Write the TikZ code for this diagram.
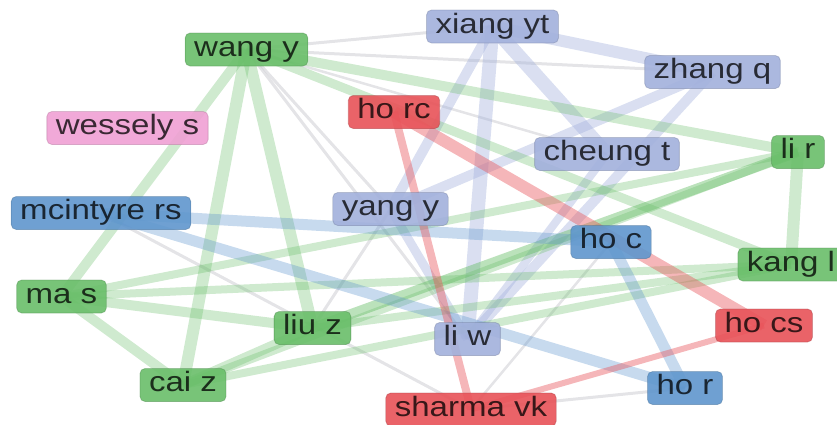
\documentclass[tikz,border=0pt]{standalone}
\usepackage{fontspec}
\setmainfont[FakeStretch=1.18]{Liberation Sans}
\usetikzlibrary{backgrounds}
\definecolor{cg}{RGB}{105,190,105}
\definecolor{cr}{RGB}{232,82,88}
\definecolor{cb}{RGB}{95,150,205}
\definecolor{cl}{RGB}{162,176,220}
\definecolor{cp}{RGB}{240,160,212}
\definecolor{cgray}{RGB}{210,210,215}
\tikzset{
  nd/.style={rounded corners=5pt, inner xsep=9pt, inner ysep=0pt,
    text height=19pt, text depth=6pt, minimum height=33pt,
    font=\fontsize{28}{30}\selectfont, text=black, text opacity=0.76,
    fill opacity=0.9, draw opacity=0.45, line width=0.8pt},
  ng/.style={nd, fill=cg, draw=cg!75!black},
  nr/.style={nd, fill=cr, draw=cr!75!black},
  nb/.style={nd, fill=cb, draw=cb!75!black},
  nl/.style={nd, fill=cl, draw=cl!75!black},
  np/.style={nd, fill=cp, draw=cp!75!black},
  eg/.style={draw=cg, draw opacity=0.32, line width=#1pt}, eg/.default=10,
  er/.style={draw=cr, draw opacity=0.42, line width=#1pt}, er/.default=10,
  eb/.style={draw=cb, draw opacity=0.35, line width=#1pt}, eb/.default=10,
  el/.style={draw=cl, draw opacity=0.4, line width=#1pt}, el/.default=10,
  ey/.style={draw=cgray, draw opacity=0.6, line width=#1pt}, ey/.default=3,
}
\begin{document}
\begin{tikzpicture}[x=1pt,y=-1pt]
\useasboundingbox (0,0) rectangle (837,424);
\clip (0,0) rectangle (837,424);
\node[ng] (wang) at (246.5,49.5) {wang y};
\node[np] (wess) at (127.5,128) {wessely s};
\node[nb] (mcin) at (101,213) {mcintyre rs};
\node[ng] (mas) at (61.5,296.5) {ma s};
\node[ng] (cai) at (183,385) {cai z};
\node[ng] (liuz) at (312.5,328) {liu z};
\node[nr] (horc) at (394,112) {ho rc};
\node[nl] (yang) at (390.5,209) {yang y};
\node[nl] (xiang) at (492.5,26.5) {xiang yt};
\node[nl] (zhang) at (712.5,72) {zhang q};
\node[nl] (cheung) at (607,154) {cheung t};
\node[ng] (lir) at (798,152) {li r};
\node[nb] (hoc) at (611,242) {ho c};
\node[ng] (kang) at (791,264.5) {kang l};
\node[nr] (hocs) at (764,325.5) {ho cs};
\node[nl] (liw) at (467.5,339) {li w};
\node[nb] (hor) at (685,388) {ho r};
\node[nr] (sharma) at (471,409.5) {sharma vk};
\begin{pgfonlayer}{background}
% gray thin
\draw[ey] (wang.center) -- (xiang.center);
\draw[ey] (wang.center) -- (zhang.center);
\draw[ey] (wang.center) -- (yang.center);
\draw[ey] (wang.center) -- (liw.center);
\draw[ey=2.5] (wang.center) -- (cheung.center);
\draw[ey] (liuz.center) -- (yang.center);
\draw[ey] (mcin.center) -- (sharma.center);
\draw[ey=2.5] (hoc.center) -- (sharma.center);
\draw[ey] (sharma.center) -- (hor.center);
% lavender
\draw[el=12] (xiang.center) -- (zhang.center);
\draw[el=14] (xiang.center) -- (cheung.center);
\draw[el=14] (xiang.center) -- (liw.center);
\draw[el=10] (xiang.center) -- (yang.center);
\draw[el=10] (zhang.center) -- (yang.center);
\draw[el=10] (zhang.center) -- (liw.center);
\draw[el=8] (cheung.center) -- (liw.center);
\draw[el=9] (yang.center) -- (liw.center);
% green
\draw[eg=10] (wang.center) -- (mas.center);
\draw[eg=12] (wang.center) -- (cai.center);
\draw[eg=12] (wang.center) -- (liuz.center);
\draw[eg=10] (wang.center) -- (lir.center);
\draw[eg=9] (wang.center) -- (kang.center);
\draw[eg=10] (mas.center) -- (cai.center);
\draw[eg=10] (mas.center) -- (liuz.center);
\draw[eg=8] (mas.center) -- (lir.center);
\draw[eg=8] (mas.center) -- (kang.center);
\draw[eg=10] (cai.center) -- (liuz.center);
\draw[eg=8] (cai.center) -- (lir.center);
\draw[eg=8] (cai.center) -- (kang.center);
\draw[eg=10,draw opacity=0.45] (liuz.center) -- (lir.center);
\draw[eg=8] (liuz.center) -- (kang.center);
\draw[eg=12] (lir.center) -- (kang.center);
% blue
\draw[eb=11] (mcin.center) -- (hoc.center);
\draw[eb=11] (mcin.center) -- (hor.center);
\draw[eb=11] (hoc.center) -- (hor.center);
% red
\draw[er=12] (horc.center) -- (hocs.center);
\draw[er=8] (horc.center) -- (sharma.center);
\draw[er=6] (sharma.center) -- (hocs.center);
\end{pgfonlayer}
\end{tikzpicture}
\end{document}
